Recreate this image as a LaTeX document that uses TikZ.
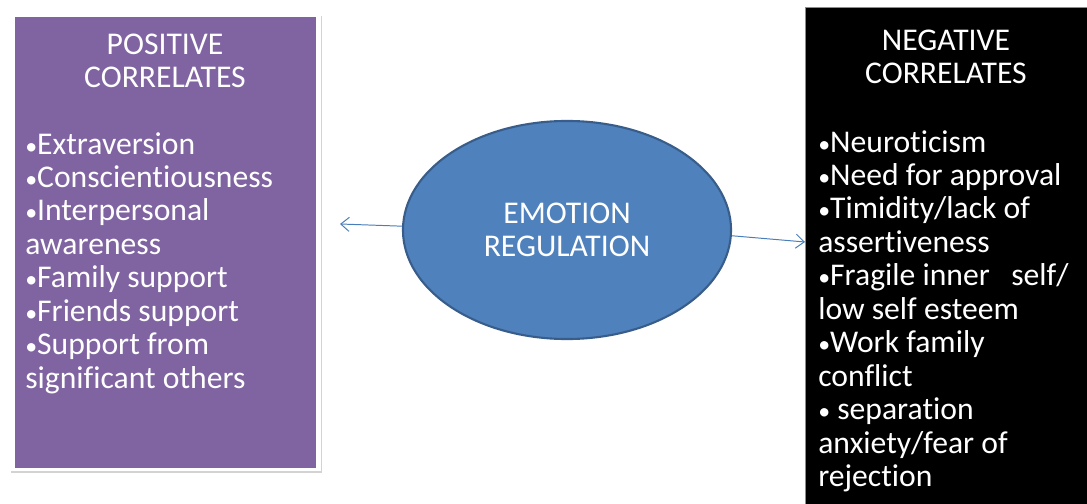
\documentclass[tikz,border=0pt]{standalone}
\usepackage{fontspec}
\setmainfont{Carlito}[Ligatures=NoCommon]
\usetikzlibrary{arrows.meta,shadows,shapes.geometric}
\definecolor{posPurple}{HTML}{8064A2}
\definecolor{ovalBlue}{HTML}{4F81BD}
\definecolor{ovalEdge}{HTML}{385D8A}
\definecolor{linkBlue}{HTML}{4A7EBB}
%% A smaller bullet, as in the slide.
\newcommand{\smallbul}{{\fontsize{17}{17}\selectfont•}}

\begin{document}
\begin{tikzpicture}[x=0.025cm,y=-0.025cm,%%
  textStyle/.style={text=white,inner sep=0pt,font=\fontsize{22.5}{23.8}\selectfont},%%
  titleStyle/.style={textStyle,align=center},%%
  listStyle/.style={textStyle,align=left,anchor=north west},%%
  ovalStyle/.style={ellipse,fill=ovalBlue,draw=ovalEdge,line width=1.5pt,%%
    minimum width=8.2cm,minimum height=5.45cm,text=white,align=center,%%
    font=\fontsize{22.5}{23.8}\selectfont},%%
  linkStyle/.style={-{Straight Barb[length=6pt,width=10pt]},draw=linkBlue,line width=0.7pt}%%
]
%%
\useasboundingbox (0,0) rectangle (1087,504);
%%
%% Coordinates for the two boxes.
\coordinate (posUpperLeft) at (15,17);
\coordinate (posLowerRight) at (316,468);
\coordinate (negUpperLeft) at (805,7);
\coordinate (negLowerRight) at (1090,507);
%% Free ends of the two links.
\coordinate (posTip) at (340,224);
\coordinate (negTip) at (805,242);
%%
%% Box of the positive correlates, with its white frame.
\fill[white,drop shadow={opacity=0.35,shadow xshift=0.5pt,shadow yshift=-1.5pt}] (10,14) rectangle (321,471);
\fill[posPurple] (posUpperLeft) rectangle (posLowerRight);
\node[titleStyle] (posTitle) at (165,61) {POSITIVE\\CORRELATES};
\node[listStyle] (posList) at (25,132) {%%
  \smallbul Extraversion\\
  \smallbul Conscientiousness\\
  \smallbul Interpersonal\\
  awareness\\
  \smallbul Family support\\
  \smallbul Friends support\\
  \smallbul Support from\\
  significant others};
%%
%% Box of the negative correlates.
\fill[black,draw=black!45,line width=0.6pt] (negUpperLeft) rectangle (negLowerRight);
\node[titleStyle] (negTitle) at (946,57) {NEGATIVE\\CORRELATES};
\node[listStyle] (negList) at (818,130) {%%
  \smallbul Neuroticism\\
  \smallbul Need for approval\\
  \smallbul Timidity/lack of\\
  assertiveness\\
  \smallbul Fragile inner\ \ \ self/\\
  low self esteem\\
  \smallbul Work family\\
  conflict\\
  \smallbul\ separation\\
  anxiety/fear of\\
  rejection};
%%
%% The oval in the middle and its links.
\draw[linkStyle] (567,232) -- (posTip);
\node[ovalStyle] (emotion) at (567,230) {EMOTION\\REGULATION};
\draw[linkStyle] (emotion.358) -- (negTip);
\end{tikzpicture}
\end{document}
